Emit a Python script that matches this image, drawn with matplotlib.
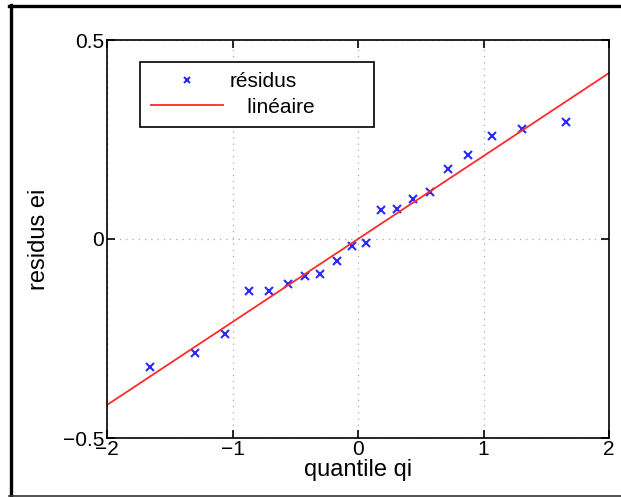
import numpy as np
import matplotlib
matplotlib.use('Agg')
import matplotlib.pyplot as plt
from matplotlib.lines import Line2D

# quantiles / residus
q = [-1.66, -1.30, -1.06, -0.87, -0.71, -0.56, -0.42, -0.30, -0.17, -0.05,
     0.06, 0.18, 0.31, 0.44, 0.57, 0.72, 0.88, 1.07, 1.31, 1.66]
e = [-0.322, -0.286, -0.239, -0.131, -0.130, -0.112, -0.092, -0.087, -0.055, -0.017,
     -0.011, 0.074, 0.075, 0.100, 0.118, 0.176, 0.211, 0.259, 0.277, 0.294]
line_x = [-2, 2]
line_y = [-0.417, 0.417]

plt.rcParams['font.family'] = ['Liberation Sans', 'DejaVu Sans']

W, H = 621, 497
fig = plt.figure(figsize=(W / 100, H / 100), dpi=100)
ax = fig.add_axes([107 / W, 1 - 438 / H, 502 / W, 398 / H])

ax.plot(q, e, 'x', color='#2a2aff', markersize=6, markeredgewidth=1.5, label='résidus')
ax.plot(line_x, line_y, '-', color='#ff2a2a', linewidth=1.3, label='   linéaire')

ax.set_xlim(-2, 2)
ax.set_ylim(-0.5, 0.5)
ax.set_xticks([-2, -1, 0, 1, 2])
ax.set_yticks([-0.5, 0, 0.5])
ax.set_xticklabels(['\u22122', '\u22121', '0', '1', '2'])
ax.set_yticklabels(['\u22120.5', '0', '0.5'])
ax.tick_params(direction='in', top=True, right=True, length=6, width=1.2,
               labelsize=15)
ax.tick_params(axis='x', pad=1.5)
ax.tick_params(axis='y', pad=2)
ax.grid(True, linestyle=(0, (1, 4)), color='#aaaaaa', linewidth=0.9)
for s in ax.spines.values():
    s.set_linewidth(1.2)

ax.set_xlabel('quantile qi', fontsize=17, labelpad=0)
ax.set_ylabel('residus ei', fontsize=17, labelpad=9)

leg = ax.legend(loc='upper left', bbox_to_anchor=(0.066, 0.784, 0.466, 0.161),
                mode='expand', fontsize=15, numpoints=1, markerscale=0.8,
                handlelength=3.5, handletextpad=0.3, borderpad=0.5,
                borderaxespad=0, fancybox=False, framealpha=1,
                edgecolor='black', labelspacing=0.3)
leg.get_frame().set_linewidth(1.2)

# outer frame of the figure (right side cut off in the reference)
fig.lines.append(Line2D([9 / W, 1], [1 - 6 / H, 1 - 6 / H], transform=fig.transFigure,
                        color='black', linewidth=2.4))
fig.lines.append(Line2D([11 / W, 11 / W], [0, 1 - 5 / H], transform=fig.transFigure,
                        color='black', linewidth=2.4))
fig.lines.append(Line2D([9 / W, 1], [1 - 496 / H, 1 - 496 / H], transform=fig.transFigure,
                        color='#333333', linewidth=1.2))

fig.savefig('out.png', dpi=100)
